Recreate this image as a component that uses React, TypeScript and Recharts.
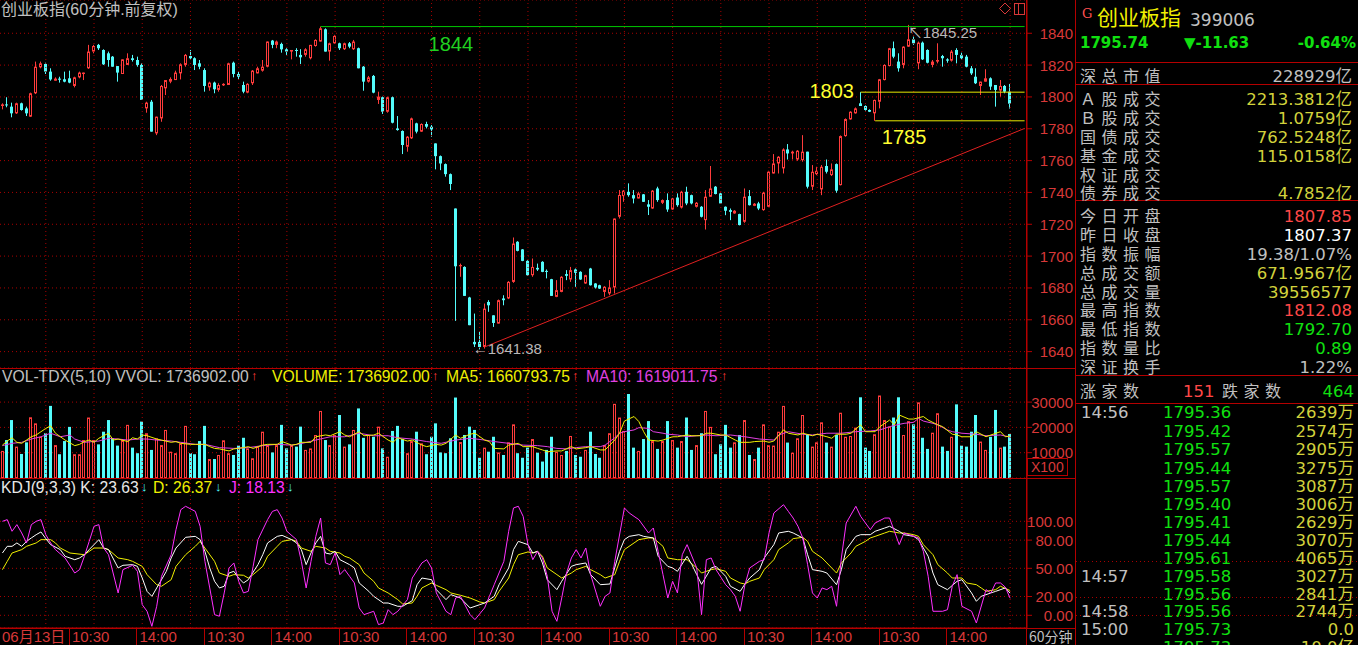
import React from 'react';
import {
  ComposedChart,
  Bar,
  Line,
  XAxis,
  YAxis,
  CartesianGrid,
  ReferenceLine,
  ReferenceDot,
} from 'recharts';

// ---- colours / fonts ----
const UP = '#ff3c3c';
const DOWN = '#54fcfc';
const AXIS = '#d83838';
const BORDER = '#b40000';
const GRID = '#a80000';
const GRAY = '#c0c0c0';
const YELLOW = '#f0f000';
const OLIVE = '#d2d23c';
const MAGENTA = '#ff30ff';
const GREEN = '#10e010';
const LATIN = '"Liberation Sans", Arial, "Noto Sans CJK SC", sans-serif';
const CJK = '"Noto Sans CJK SC", sans-serif';
const PANEL = '"DejaVu Sans", "Noto Sans CJK SC", sans-serif';

// ---- 60 minute candles: [open, high, low, close] ----
const OHLC: number[][] = [
  [1794.3, 1796.0, 1792.2, 1795.3], [1795.3, 1799.8, 1793.5, 1794.7], [1793.9, 1796.4, 1787.2, 1789.7], [1789.7, 1796.4, 1789.3, 1796.0],
  [1796.0, 1796.4, 1791.4, 1791.8], [1792.8, 1793.9, 1788.0, 1789.7], [1787.6, 1802.7, 1787.4, 1802.3], [1802.3, 1822.2, 1801.8, 1819.0],
  [1818.6, 1822.2, 1818.0, 1821.1], [1820.7, 1821.5, 1814.4, 1815.9], [1815.9, 1818.0, 1810.2, 1811.0], [1810.2, 1812.3, 1810.2, 1811.5],
  [1811.5, 1812.7, 1809.0, 1810.8], [1811.1, 1815.9, 1809.2, 1809.6], [1811.7, 1816.5, 1808.6, 1809.0], [1806.9, 1812.7, 1806.0, 1812.3],
  [1812.3, 1815.9, 1811.7, 1815.3], [1814.4, 1815.3, 1810.6, 1815.3], [1818.0, 1832.7, 1817.6, 1828.5], [1828.5, 1832.7, 1827.4, 1832.0],
  [1832.7, 1833.3, 1829.5, 1830.6], [1829.5, 1829.9, 1820.1, 1820.5], [1827.4, 1828.5, 1819.0, 1823.2], [1825.3, 1825.7, 1819.0, 1819.0],
  [1819.4, 1819.4, 1809.6, 1815.3], [1814.4, 1823.6, 1814.4, 1823.6], [1820.1, 1827.4, 1820.1, 1824.3], [1824.3, 1826.4, 1822.2, 1823.2],
  [1823.2, 1825.3, 1819.0, 1820.1], [1820.1, 1821.1, 1798.1, 1798.1], [1792.8, 1797.0, 1790.1, 1796.4], [1797.0, 1798.1, 1778.2, 1778.2],
  [1777.1, 1787.6, 1776.0, 1787.6], [1786.5, 1807.5, 1784.4, 1806.9], [1805.4, 1810.6, 1801.2, 1810.6], [1809.6, 1812.3, 1808.6, 1811.3],
  [1810.6, 1816.5, 1810.6, 1815.3], [1814.8, 1821.1, 1811.0, 1820.5], [1820.1, 1827.0, 1819.0, 1826.4], [1825.7, 1829.5, 1823.6, 1824.3],
  [1824.3, 1824.9, 1816.9, 1820.1], [1821.1, 1823.2, 1817.4, 1819.0], [1816.9, 1818.0, 1803.3, 1806.9], [1806.0, 1809.6, 1803.9, 1809.0],
  [1809.0, 1809.6, 1802.3, 1804.8], [1804.4, 1808.6, 1803.3, 1807.5], [1807.3, 1808.6, 1806.9, 1808.2], [1807.5, 1821.5, 1807.5, 1821.1],
  [1821.5, 1822.2, 1812.3, 1814.4], [1814.4, 1815.9, 1811.0, 1812.7], [1807.5, 1809.6, 1802.3, 1803.3], [1802.7, 1808.6, 1802.3, 1808.2],
  [1808.6, 1816.9, 1807.5, 1816.5], [1814.8, 1819.0, 1814.8, 1818.0], [1816.5, 1823.2, 1815.9, 1819.0], [1819.0, 1834.8, 1818.6, 1834.8],
  [1835.4, 1835.8, 1830.6, 1832.7], [1832.7, 1835.4, 1830.6, 1834.8], [1833.3, 1834.1, 1827.8, 1829.9], [1829.9, 1830.6, 1826.4, 1828.5],
  [1828.5, 1829.5, 1823.6, 1829.5], [1829.5, 1830.6, 1825.3, 1829.1], [1826.4, 1830.0, 1820.7, 1824.9], [1826.4, 1830.6, 1825.3, 1829.9],
  [1824.3, 1832.7, 1823.6, 1832.7], [1832.0, 1836.2, 1831.6, 1835.8], [1834.8, 1844.2, 1834.8, 1843.1], [1842.5, 1843.1, 1828.5, 1828.5],
  [1828.5, 1834.1, 1822.8, 1833.7], [1833.7, 1839.0, 1833.3, 1838.3], [1833.7, 1834.1, 1829.5, 1830.6], [1830.0, 1834.1, 1829.5, 1833.7],
  [1833.7, 1834.5, 1830.6, 1831.6], [1830.0, 1835.8, 1829.5, 1834.8], [1830.6, 1831.0, 1818.0, 1818.0], [1819.0, 1819.4, 1803.9, 1809.6],
  [1809.6, 1813.2, 1809.0, 1812.3], [1813.2, 1813.8, 1802.3, 1802.7], [1798.1, 1803.3, 1795.6, 1800.2], [1799.8, 1800.2, 1789.3, 1790.7],
  [1790.7, 1800.2, 1790.1, 1799.8], [1799.8, 1800.2, 1783.4, 1783.8], [1780.2, 1788.0, 1778.8, 1779.2], [1778.6, 1779.0, 1764.1, 1769.8],
  [1768.7, 1775.4, 1765.6, 1775.0], [1774.0, 1787.0, 1773.6, 1786.5], [1783.4, 1783.8, 1777.1, 1778.2], [1778.2, 1783.4, 1778.0, 1783.0],
  [1783.0, 1784.4, 1780.2, 1781.3], [1781.3, 1782.3, 1775.0, 1779.6], [1770.8, 1770.8, 1754.5, 1762.8], [1762.8, 1763.2, 1754.0, 1758.2],
  [1757.8, 1758.2, 1749.9, 1751.5], [1751.5, 1751.9, 1741.5, 1745.3], [1729.9, 1729.9, 1659.3, 1693.6], [1693.6, 1695.3, 1687.0, 1694.4],
  [1693.2, 1693.6, 1675.0, 1675.0], [1674.0, 1674.4, 1656.6, 1656.6], [1646.1, 1663.9, 1642.9, 1644.6], [1646.1, 1652.4, 1641.38, 1642.9],
  [1642.9, 1670.2, 1641.9, 1667.0], [1671.2, 1672.3, 1665.0, 1669.1], [1662.8, 1662.8, 1655.5, 1658.0], [1657.6, 1672.7, 1657.6, 1672.3],
  [1673.4, 1675.4, 1669.1, 1672.3], [1673.4, 1684.3, 1673.0, 1683.8], [1683.8, 1711.7, 1683.2, 1707.9], [1709.0, 1709.4, 1703.0, 1703.3],
  [1704.2, 1704.4, 1696.8, 1697.0], [1697.0, 1697.4, 1687.5, 1688.0], [1688.0, 1698.5, 1687.0, 1693.2], [1692.6, 1695.3, 1690.7, 1691.6],
  [1696.4, 1696.8, 1689.9, 1690.1], [1690.7, 1691.6, 1686.0, 1690.1], [1685.5, 1685.7, 1675.0, 1675.0], [1674.4, 1684.9, 1674.2, 1678.6],
  [1677.5, 1687.4, 1677.3, 1687.0], [1688.7, 1691.2, 1684.9, 1687.6], [1685.3, 1693.2, 1683.8, 1691.2], [1691.6, 1692.2, 1680.7, 1689.5],
  [1690.1, 1690.5, 1685.1, 1685.3], [1682.8, 1688.3, 1682.6, 1688.0], [1692.2, 1692.6, 1681.5, 1681.7], [1682.8, 1683.0, 1679.6, 1680.3],
  [1681.7, 1682.0, 1679.4, 1679.6], [1677.5, 1681.1, 1674.4, 1680.7], [1676.5, 1684.9, 1675.4, 1680.3], [1680.3, 1723.6, 1676.5, 1723.6],
  [1724.7, 1741.5, 1723.6, 1738.4], [1737.7, 1741.5, 1734.1, 1741.1], [1740.4, 1745.7, 1737.3, 1738.3], [1738.3, 1741.5, 1733.1, 1736.2],
  [1736.2, 1740.4, 1736.2, 1739.4], [1738.8, 1739.0, 1734.0, 1734.1], [1732.5, 1735.2, 1725.8, 1731.0], [1729.9, 1741.5, 1729.7, 1741.1],
  [1742.5, 1743.6, 1734.1, 1735.2], [1733.5, 1735.6, 1732.7, 1735.2], [1735.2, 1739.4, 1727.8, 1729.3], [1729.3, 1736.6, 1729.1, 1736.2],
  [1736.8, 1739.4, 1731.0, 1732.0], [1730.5, 1741.0, 1729.9, 1740.4], [1740.4, 1743.6, 1732.0, 1733.1], [1738.3, 1738.6, 1732.5, 1733.1],
  [1731.0, 1734.0, 1730.5, 1733.5], [1731.0, 1731.4, 1724.3, 1724.7], [1722.6, 1741.5, 1716.7, 1737.3], [1737.3, 1756.6, 1737.3, 1742.5],
  [1743.6, 1744.0, 1738.8, 1739.0], [1739.4, 1739.6, 1732.9, 1733.1], [1731.0, 1731.2, 1725.7, 1728.5], [1728.9, 1729.9, 1722.6, 1727.8],
  [1726.8, 1728.9, 1726.6, 1728.5], [1726.4, 1726.6, 1719.3, 1719.5], [1721.6, 1742.5, 1720.9, 1737.3], [1737.7, 1741.5, 1731.8, 1732.0],
  [1731.6, 1733.3, 1731.4, 1732.9], [1733.1, 1734.1, 1728.9, 1729.9], [1728.9, 1740.4, 1728.5, 1739.8], [1731.0, 1753.6, 1731.0, 1753.0],
  [1751.9, 1764.1, 1751.9, 1758.2], [1758.2, 1762.8, 1751.9, 1762.4], [1755.1, 1767.7, 1751.9, 1767.0], [1767.0, 1770.4, 1760.7, 1764.5],
  [1764.5, 1766.2, 1760.7, 1765.6], [1760.7, 1766.6, 1759.9, 1766.2], [1760.3, 1776.0, 1759.3, 1765.6], [1765.6, 1765.6, 1742.5, 1743.6],
  [1743.6, 1757.2, 1741.5, 1753.0], [1751.5, 1756.1, 1750.9, 1753.6], [1741.9, 1757.2, 1738.3, 1756.1], [1756.6, 1760.7, 1751.9, 1753.0],
  [1750.9, 1758.2, 1750.3, 1754.5], [1757.8, 1758.2, 1739.8, 1741.1], [1744.6, 1775.8, 1744.4, 1775.4], [1775.4, 1786.5, 1775.0, 1786.1],
  [1785.9, 1791.0, 1785.7, 1790.7], [1789.7, 1793.4, 1789.5, 1792.8], [1796.0, 1803.0, 1794.3, 1794.3], [1794.3, 1794.7, 1791.4, 1791.8],
  [1791.8, 1792.2, 1790.5, 1790.7], [1789.7, 1798.3, 1785.0, 1798.1], [1797.0, 1811.3, 1792.8, 1811.1], [1810.6, 1820.5, 1810.4, 1820.1],
  [1819.4, 1830.8, 1819.2, 1830.6], [1830.6, 1834.8, 1824.3, 1825.3], [1822.2, 1827.4, 1815.9, 1818.0], [1820.1, 1831.8, 1818.0, 1831.6],
  [1831.6, 1845.25, 1831.4, 1836.2], [1836.2, 1837.9, 1832.7, 1833.7], [1821.1, 1834.8, 1817.4, 1834.1], [1834.1, 1834.8, 1823.2, 1823.6],
  [1829.5, 1829.9, 1821.1, 1821.5], [1820.1, 1823.2, 1818.6, 1822.2], [1822.2, 1833.7, 1821.1, 1823.2], [1825.7, 1826.4, 1819.0, 1824.3],
  [1823.6, 1824.3, 1821.5, 1822.8], [1822.8, 1829.5, 1822.2, 1828.5], [1829.5, 1830.6, 1821.1, 1826.4], [1826.4, 1827.8, 1823.6, 1824.3],
  [1825.3, 1826.4, 1818.6, 1819.0], [1818.0, 1819.4, 1813.8, 1814.8], [1812.7, 1818.0, 1808.1, 1808.6], [1806.9, 1809.6, 1801.2, 1809.6],
  [1809.6, 1817.4, 1809.6, 1811.7], [1811.7, 1812.3, 1804.4, 1806.5], [1807.5, 1807.5, 1793.9, 1804.4], [1804.0, 1810.6, 1800.2, 1806.9],
  [1806.9, 1807.5, 1802.3, 1803.3], [1803.3, 1808.1, 1792.7, 1795.74],
];

// ---- volume (x100) ----
const VOL = [
  10700, 15000, 22900, 12400, 9500, 14100, 24000, 21600, 16300, 17700,
  28500, 13000, 9400, 14600, 20200, 9400, 9400, 15000, 23900, 15000,
  13300, 18300, 22900, 15700, 12800, 15000, 21000, 12000, 9800, 22300,
  17700, 11100, 15700, 13000, 19000, 10400, 9800, 13700, 20600, 9800,
  9400, 14600, 20600, 7500, 7500, 9100, 14900, 9800, 9100, 12800,
  15900, 11700, 7800, 12400, 18300, 13000, 10100, 13000, 21000, 11700,
  13000, 12400, 20300, 11100, 11700, 17000, 26500, 15000, 13000, 17000,
  24900, 12400, 13300, 19000, 27500, 15900, 17000, 16300, 20300, 11700,
  8400, 18600, 20600, 15400, 9800, 14600, 18300, 13700, 9400, 16300,
  21600, 10100, 9800, 15700, 31800, 14200, 17000, 20300, 19000, 8000,
  12000, 10400, 16300, 10100, 9100, 14100, 21200, 9800, 8000, 12000,
  15400, 10000, 6500, 11100, 16300, 10400, 9100, 10700, 16600, 9100,
  8400, 11100, 18300, 9500, 8000, 13000, 17700, 29300, 23900, 18600,
  33200, 12000, 10700, 15400, 22500, 14600, 11500, 14600, 22500, 15000,
  12000, 14600, 23900, 11100, 13000, 17700, 26500, 20200, 9400, 13300,
  21000, 12000, 14100, 17000, 22900, 9100, 7500, 12000, 21200, 13000,
  12800, 18300, 28500, 14000, 10000, 15700, 24900, 17300, 12400, 14100,
  22000, 14000, 12400, 17000, 25800, 16300, 16600, 19900, 31900, 12000,
  10700, 17300, 32600, 22900, 20300, 23900, 31900, 17000, 22500, 21200,
  29900, 15900, 11500, 17900, 25600, 12400, 10700, 16300, 29100, 12800,
  12400, 18300, 24900, 14400, 11100, 16300, 26900, 12000, 12400, 17370,
];

// ---- volume averages: [bar, value] ----
const MA5_PTS = [
  [0, 13000], [1, 14600], [2, 15900], [3, 14100], [4, 13700], [5, 15000], [6, 16300], [7, 17000], [8, 18300], [9, 19600],
  [10, 20600], [11, 17700], [13, 15000], [15, 12800], [16, 13300], [17, 14400], [18, 15000], [19, 14100], [20, 15700], [22, 17700],
  [23, 15000], [24, 15400], [26, 14400], [27, 15900], [28, 15400], [29, 17000], [30, 16700], [32, 15400], [33, 15000], [35, 14100],
  [36, 14400], [37, 13700], [39, 13300], [40, 13300], [42, 13300], [43, 12400], [44, 11700], [45, 11500], [47, 10700], [48, 11500],
  [50, 12000], [51, 12400], [52, 11700], [54, 13000], [55, 13300], [57, 13300], [58, 14400], [60, 13000], [61, 13300], [62, 14100],
  [64, 14100], [65, 16300], [67, 17000], [68, 16700], [70, 18300], [71, 17000], [72, 16300], [74, 18300], [75, 16700], [77, 17000],
  [78, 17700], [80, 15000], [81, 14100], [82, 15900], [84, 14600], [85, 15000], [87, 13000], [88, 12400], [90, 13300], [91, 13000],
  [92, 13700], [94, 17000], [95, 15700], [97, 17300], [98, 17700], [100, 15000], [101, 14400], [102, 11700], [104, 11500], [105, 13000],
  [107, 13700], [108, 12400], [110, 12400], [111, 11700], [112, 11100], [113, 10400], [115, 10700], [116, 10700], [118, 12400], [119, 11500],
  [121, 12000], [122, 12400], [124, 11100], [125, 11100], [127, 15000], [128, 17700], [129, 22500], [131, 24300], [132, 22300], [133, 18300],
  [134, 15000], [136, 14600], [137, 15000], [139, 16300], [140, 16300], [142, 17000], [143, 16700], [145, 16700], [146, 17700], [147, 17700],
  [149, 17000], [150, 17000], [152, 15000], [153, 14100], [155, 14100], [156, 14400], [158, 14600], [159, 14100], [160, 14600], [162, 19000],
  [163, 17700], [165, 17000], [166, 17700], [168, 16700], [169, 17300], [171, 16300], [172, 15700], [173, 17300], [175, 17300], [176, 17700],
  [178, 21000], [179, 18300], [181, 18300], [182, 20300], [184, 22900], [185, 21000], [186, 24900], [188, 23300], [189, 23300], [191, 24300],
  [192, 22900], [194, 21000], [195, 20300], [197, 17300], [198, 17000], [199, 16300], [201, 16300], [202, 18300], [204, 16300], [205, 17000],
  [207, 18300], [208, 16300], [209, 16608],
];
const MA10_PTS = [
  [0, 12800], [2, 13700], [4, 14100], [6, 15400], [8, 16300], [10, 17700], [12, 16300], [14, 17000], [15, 15400], [17, 14100],
  [20, 14600], [22, 15700], [24, 15400], [26, 15000], [28, 15400], [30, 15400], [32, 15000], [35, 14600], [37, 14100], [40, 13300],
  [42, 13300], [45, 12000], [48, 11700], [51, 12000], [54, 12800], [57, 13300], [60, 13000], [62, 13600], [65, 15000], [68, 16300],
  [71, 16300], [74, 17700], [77, 16700], [80, 16700], [82, 15900], [85, 15400], [88, 14400], [91, 13700], [94, 15000], [97, 15700],
  [100, 15000], [102, 14400], [105, 13700], [108, 13000], [111, 12800], [113, 12400], [115, 11700], [117, 11500], [119, 12000], [121, 12400],
  [124, 12400], [125, 13000], [127, 15900], [128, 17700], [129, 18300], [131, 19000], [132, 19900], [134, 19600], [135, 18300], [137, 17700],
  [138, 17300], [140, 17000], [142, 16300], [144, 16700], [146, 17000], [148, 16700], [151, 17000], [154, 16300], [157, 15400], [160, 15000],
  [161, 17000], [163, 18300], [166, 17300], [168, 17000], [171, 17700], [174, 17700], [177, 18300], [180, 18600], [182, 19000], [184, 20300],
  [186, 21200], [187, 21600], [189, 22000], [190, 23600], [191, 22500], [193, 21600], [194, 21000], [196, 19000], [197, 18300], [199, 17700],
  [202, 17300], [204, 16700], [207, 17000], [209, 16190],
];

// ---- KDJ(9,3,3): [bar, value] ----
const K_PTS = [
  [0, 66.3], [1, 73.4], [2, 73.4], [3, 77], [4, 73.4], [5, 78.7], [6, 82.3], [7, 85.8], [8, 88.7], [9, 81.6], [10, 75.2], [12, 69.9],
  [13, 62.8], [15, 59.2], [16, 61], [17, 64.5], [18, 69.9], [20, 80.5], [21, 71.6], [22, 69.9], [24, 50.4], [25, 53.2], [27, 53.9],
  [28, 52.1], [29, 39.7], [30, 25.5], [31, 20.2], [32, 29.1], [34, 46.8], [35, 61], [36, 71.6], [38, 83], [40, 84], [41, 80.5],
  [42, 68.1], [43, 50.4], [44, 36.2], [45, 29.1], [46, 30.9], [47, 45], [48, 46.8], [49, 39.7], [50, 34.4], [51, 37.9], [53, 53.9],
  [54, 64.5], [55, 77], [57, 84], [58, 85.1], [60, 80.5], [61, 77], [62, 69.9], [63, 53.9], [64, 66.3], [65, 77], [66, 84],
  [67, 66.3], [68, 65.2], [69, 68.1], [70, 59.2], [72, 53.9], [73, 50.4], [74, 34.4], [76, 25.5], [77, 20.2], [79, 13.1], [80, 13.1],
  [82, 9.6], [83, 9.6], [85, 15.6], [86, 32.6], [87, 39.7], [89, 37.9], [90, 27.3], [92, 16.7], [93, 22], [95, 18.4], [96, 13.1],
  [97, 7.8], [99, 11.3], [100, 13.1], [102, 20.2], [103, 32.6], [105, 50.4], [106, 69.9], [107, 78.7], [109, 75.2], [110, 66.3],
  [111, 68.1], [112, 55.7], [113, 37.9], [115, 27.3], [116, 36.2], [118, 52.1], [119, 53.9], [121, 55.7], [122, 43.3], [124, 32.6],
  [126, 33.3], [128, 68.1], [129, 80.5], [130, 84], [132, 85.8], [133, 84], [135, 82.3], [136, 62.8], [138, 52.1], [139, 50.4],
  [140, 46.8], [142, 62.8], [143, 53.9], [144, 43.3], [145, 33], [147, 50.4], [148, 52.1], [150, 41.5], [151, 30.9], [153, 25.5],
  [154, 33.3], [155, 39.7], [157, 48.6], [158, 61], [160, 75.2], [161, 87.6], [163, 89.4], [164, 87.6], [166, 82.3], [167, 64.5],
  [168, 48.6], [170, 46.8], [171, 45], [173, 32.6], [174, 48.6], [175, 69.9], [177, 84], [178, 85.8], [180, 85.8], [181, 89.4],
  [183, 92.9], [184, 94.7], [186, 89.4], [187, 85.8], [189, 84], [190, 80.5], [192, 62.8], [193, 45], [194, 32.6], [196, 27.3],
  [198, 36.2], [199, 37.9], [201, 23.8], [202, 14.9], [203, 20.2], [205, 23.8], [206, 25.5], [208, 29.1], [209, 23.63],
];
const D_PTS = [
  [0, 48.6], [1, 57.4], [2, 66.3], [4, 69.9], [5, 73.4], [7, 77], [8, 80.5], [10, 80.5], [11, 77], [12, 71.6], [14, 66.3], [17, 64.5],
  [19, 71.6], [21, 71.6], [22, 69.9], [24, 61], [26, 59.2], [27, 57.4], [29, 52.1], [30, 43.3], [32, 32.6], [33, 30.9], [35, 37.9],
  [36, 52.1], [38, 64.5], [40, 73.4], [41, 78.7], [42, 71.6], [44, 57.4], [45, 45], [47, 41.5], [48, 43.3], [50, 42.6], [51, 39.7],
  [52, 43.3], [54, 52.1], [55, 62.8], [57, 73.4], [58, 78.7], [60, 80.5], [61, 78.7], [62, 71.6], [64, 68.1], [65, 73.4], [67, 71.6],
  [68, 68.1], [70, 66.3], [71, 62.8], [72, 61], [74, 53.9], [75, 45], [77, 36.2], [78, 29.1], [80, 23.8], [82, 16.7], [83, 12.1],
  [85, 13.1], [86, 20.2], [87, 29.1], [89, 34.4], [90, 31.9], [92, 27.3], [93, 23.8], [95, 21.3], [97, 18.4], [99, 14.2], [100, 13.1],
  [102, 16.7], [103, 25.5], [105, 39.7], [106, 53.9], [107, 64.5], [109, 67.4], [110, 66.3], [111, 68.1], [112, 62.8], [113, 50.4],
  [115, 43.3], [116, 39.7], [118, 45], [119, 48.6], [121, 52.1], [122, 48.6], [124, 43.3], [125, 39.7], [127, 43.3], [128, 57.4],
  [129, 69.9], [131, 77], [132, 80.5], [134, 82.3], [135, 82.3], [137, 73.4], [138, 61], [140, 59.2], [141, 59.2], [142, 59.2],
  [144, 50.4], [145, 45], [147, 48.6], [148, 49.6], [150, 46.8], [151, 39.7], [153, 34.4], [154, 33.3], [155, 36.2], [157, 39.7],
  [158, 48.6], [160, 59.2], [161, 69.9], [163, 77], [164, 81.6], [166, 83], [167, 78.7], [168, 68.1], [170, 61], [171, 55.7],
  [173, 45], [174, 55.7], [176, 66.3], [177, 73.4], [179, 78.7], [180, 82.3], [181, 84], [183, 87.6], [184, 89.4], [186, 87.6],
  [187, 87.6], [189, 85.8], [190, 84], [191, 75.2], [193, 64.5], [194, 53.9], [196, 45], [197, 39.7], [199, 39.7], [200, 34.4],
  [202, 32.6], [203, 29.1], [204, 25.5], [206, 27.3], [207, 30.9], [209, 26.37],
];
const J_PTS = [
  [0, 100], [1, 101.8], [2, 89.4], [3, 96.5], [4, 87.6], [5, 77], [6, 96.5], [7, 100], [8, 101.8], [9, 85.8], [10, 77], [11, 69.9],
  [13, 61], [15, 45], [16, 48.6], [17, 62.8], [18, 78.7], [19, 94.7], [20, 96.5], [21, 71.6], [22, 64.5], [24, 23.8], [25, 48.6],
  [27, 53.2], [28, 46.8], [29, 11.3], [30, 4.3], [31, -11.7], [32, 9.6], [33, 41.5], [35, 64.5], [36, 91.1], [37, 112.4], [38, 116],
  [40, 110.6], [41, 94.7], [42, 57.4], [43, 29.1], [44, 0.7], [45, -1], [46, 23.8], [47, 50.4], [48, 55.7], [49, 36.2], [50, 23.8],
  [51, 25.5], [52, 52.1], [53, 80.5], [55, 101.8], [56, 110.6], [57, 112.4], [58, 103.5], [59, 89.4], [61, 80.5], [62, 57.4],
  [63, 29.1], [64, 57.4], [65, 84], [66, 103.5], [67, 55.7], [68, 53.9], [69, 66.3], [70, 43.3], [71, 48.6], [72, 41.5], [73, 34.4],
  [74, 7.8], [75, 0.7], [77, 4.3], [78, -9.9], [79, -8.2], [80, 6], [81, 0.7], [82, 4.3], [84, 16.7], [85, 39.7], [87, 55.7],
  [88, 59.2], [89, 50.4], [90, 23.8], [92, 4.3], [93, 0.7], [94, 18.4], [95, 20.2], [97, 0.7], [98, -4.6], [100, 7.8], [101, 20.2],
  [102, 32.6], [104, 57.4], [105, 89.4], [106, 114.2], [107, 116], [108, 105.3], [109, 75.2], [110, 59.2], [111, 68.1], [112, 61],
  [113, 41.5], [114, 4.3], [115, -6.4], [116, 18.4], [117, 45], [118, 61], [119, 69.9], [120, 61], [121, 71.6], [122, 43.3],
  [124, 9.6], [125, 20.2], [126, 23.8], [127, 57.4], [129, 114.2], [130, 108.9], [131, 105.3], [132, 101.8], [134, 87.6],
  [135, 92.9], [136, 68.1], [137, 43.3], [138, 18.4], [139, 36.2], [140, 23.8], [141, 64.5], [142, 75.2], [144, 50.4], [145, 0.7],
  [146, 59.2], [147, 61], [148, 48.6], [150, 32.6], [151, 27.3], [152, 20.2], [153, 4.3], [154, 32.6], [155, 50.4], [157, 57.4],
  [158, 59.2], [159, 87.6], [160, 108.9], [162, 117.7], [163, 110.6], [164, 103.5], [165, 94.7], [166, 82.3], [167, 53.9],
  [168, 23.8], [169, 18.4], [170, 29.1], [171, 27.3], [172, 30.9], [173, 9.6], [174, 61], [175, 98.2], [177, 116], [178, 105.3],
  [180, 91.1], [181, 98.2], [183, 103.5], [184, 103.5], [185, 89.4], [186, 75.2], [187, 87.6], [188, 85.8], [190, 82.3], [191, 68.1],
  [192, 41.5], [193, 4.3], [195, 4.3], [196, 6], [197, 30.9], [198, 43.3], [199, 9.6], [201, 4.3], [202, -8.2], [204, 27.3],
  [205, 23.8], [206, 34.4], [207, 34.4], [208, 30], [209, 18.13],
];

// ---- axes ----
const SLOTS = 213;
const PRICE_TICKS = [1640, 1660, 1680, 1700, 1720, 1740, 1760, 1780, 1800, 1820, 1840];
const VOL_TICKS = [10000, 20000, 30000];
const KDJ_TICKS = [0, 20, 50, 80, 100];
const GRID_BARS = [9, 19, 29, 39, 49, 59, 69, 79, 89, 99, 109, 119, 129, 139, 149, 159, 169, 179, 189, 199, 209];
const X_TICKS = [0, 14, 28, 42, 56, 70, 84, 98, 112, 126, 140, 154, 168, 182, 196];
const X_LABELS = ['06月13日', '10:30', '14:00', '10:30', '14:00', '10:30', '14:00', '10:30', '14:00', '10:30', '14:00', '10:30', '14:00', '10:30', '14:00'];

// ---- side panel text ----
const MARKET_ROWS = [
  ['深总市值', '228929', '亿', GRAY],
  ['Ａ股成交', '2213.3812', '亿', OLIVE],
  ['Ｂ股成交', '1.0759', '亿', OLIVE],
  ['国债成交', '762.5248', '亿', OLIVE],
  ['基金成交', '115.0158', '亿', OLIVE],
  ['权证成交', '', '', OLIVE],
  ['债券成交', '4.7852', '亿', OLIVE],
];
const MARKET_Y = [77, 100, 119, 138, 157, 176, 194];
const INDEX_ROWS = [
  ['今日开盘', '1807.85', '', '#ff4848'],
  ['昨日收盘', '1807.37', '', '#ffffff'],
  ['指数振幅', '19.38/1.07%', '', GRAY],
  ['总成交额', '671.9567', '亿', OLIVE],
  ['总成交量', '39556577', '', OLIVE],
  ['最高指数', '1812.08', '', '#ff4848'],
  ['最低指数', '1792.70', '', GREEN],
  ['指数量比', '0.89', '', GREEN],
  ['深证换手', '1.22%', '', GRAY],
];
const INDEX_Y = [217, 236, 255, 274, 293, 311, 330, 349, 368];
const TRADES = [
  ['14:56', '1795.36', '2639万'], ['', '1795.42', '2574万'], ['', '1795.57', '2905万'], ['', '1795.44', '3275万'],
  ['', '1795.57', '3087万'], ['', '1795.40', '3006万'], ['', '1795.41', '2629万'], ['', '1795.44', '3070万'],
  ['', '1795.61', '4065万'], ['14:57', '1795.58', '3027万'], ['', '1795.56', '2841万'], ['14:58', '1795.56', '2744万'],
  ['15:00', '1795.73', '0.0'], ['', '1795.73', '10.0亿'],
];
const TRADE_Y = [413, 432, 450, 469, 487, 505, 523, 541, 559, 577, 595, 612, 630, 648];

// ---- table for the charts ----
const toMap = (pts: number[][]) => new Map(pts.map((p) => [p[0], p[1]]));
const ma5Map = toMap(MA5_PTS);
const ma10Map = toMap(MA10_PTS);
const kMap = toMap(K_PTS);
const dMap = toMap(D_PTS);
const jMap = toMap(J_PTS);

const ROWS = Array.from({ length: SLOTS }, (_, i) => {
  const bar = OHLC[i];
  return {
    i,
    range: bar ? [bar[2], bar[1]] : null,
    o: bar ? bar[0] : null,
    h: bar ? bar[1] : null,
    l: bar ? bar[2] : null,
    c: bar ? bar[3] : null,
    vol: i < VOL.length ? VOL[i] : null,
    ma5: ma5Map.has(i) ? ma5Map.get(i) : null,
    ma10: ma10Map.has(i) ? ma10Map.get(i) : null,
    k: kMap.has(i) ? kMap.get(i) : null,
    d: dMap.has(i) ? dMap.get(i) : null,
    j: jMap.has(i) ? jMap.get(i) : null,
  };
});

// ---- shapes ----
function Candle(props: any) {
  const { x, y, width, height, payload } = props;
  if (!payload || payload.o == null || !(height >= 0)) return null;
  const { o, h, l, c } = payload;
  const k = h > l ? height / (h - l) : 0;
  const col = Math.round(x + width / 2 - 0.5);
  const cx = col + 0.5;
  const up = c >= o;
  const color = up ? UP : DOWN;
  const top = y + (h - Math.max(o, c)) * k;
  const bot = y + (h - Math.min(o, c)) * k;
  const bodyH = Math.max(bot - top, 1);
  return (
    <g>
      <line x1={cx} x2={cx} y1={y} y2={y + height} stroke={color} strokeWidth={1} />
      {up && bodyH > 2 ? (
        <rect x={col - 0.5} y={top + 0.5} width={2} height={bodyH - 1} fill="#000" stroke={color} strokeWidth={1} />
      ) : (
        <rect x={col - 1} y={top} width={3} height={bodyH} fill={color} />
      )}
    </g>
  );
}

function VolBar(props: any) {
  const { x, y, width, height, payload } = props;
  if (!payload || payload.vol == null || !(height > 0)) return null;
  const col = Math.round(x + width / 2 - 0.5);
  const up = payload.c >= payload.o;
  return up ? (
    <rect x={col - 0.5} y={y + 0.5} width={2} height={height - 1} fill="#000" stroke={UP} strokeWidth={1} />
  ) : (
    <rect x={col - 1} y={y} width={3} height={height} fill={DOWN} />
  );
}

const rightTick = (fmt: (v: number) => string) => (p: any) => (
  <text x={1073} y={p.y} textAnchor="end" dominantBaseline="central" fill={AXIS} fontSize={15} fontFamily={LATIN}>
    {fmt(p.payload.value)}
  </text>
);

const TimeTick = (p: any) => {
  const idx = X_TICKS.indexOf(p.payload.value);
  const label = X_LABELS[idx];
  if (idx === 0) {
    return (
      <text x={2} y={164} fill={AXIS} fontSize={15} fontFamily={LATIN}>{label}</text>
    );
  }
  return (
    <g>
      <line x1={Math.round(p.x) - 0.5} x2={Math.round(p.x) - 0.5} y1={151} y2={167} stroke={BORDER} />
      <text x={p.x + 2} y={164} fill={AXIS} fontSize={15} fontFamily={LATIN}>{label}</text>
    </g>
  );
};

const dotLabel = (text: string, color: string, size: number, dx: number, dy: number, anchor = 'start') => (p: any) => (
  <text
    x={p.viewBox.x + dx}
    y={p.viewBox.y + dy}
    fill={color}
    fontSize={size}
    fontFamily={LATIN}
    textAnchor={anchor}
    dominantBaseline="central"
  >
    {text}
  </text>
);

const vGrid = () =>
  GRID_BARS.map((b) => <ReferenceLine key={`vg${b}`} x={b} stroke={GRID} strokeDasharray="1 3" />);

function PriceChart() {
  return (
    <ComposedChart width={1075} height={368} data={ROWS} margin={{ top: 0, right: 0, bottom: 0, left: 0 }}>
      <CartesianGrid vertical={false} stroke={GRID} strokeDasharray="1 3" />
      <XAxis dataKey="i" scale="band" hide />
      <YAxis
        orientation="right"
        width={48}
        domain={[1629.7, 1860.9]}
        allowDataOverflow
        ticks={PRICE_TICKS}
        interval={0}
        axisLine={{ stroke: BORDER }}
        tickLine={{ stroke: BORDER }}
        tickSize={5}
        tick={rightTick((v) => String(v))}
      />
      {vGrid()}
      <ReferenceLine segment={[{ x: 66, y: 1844.2 }, { x: 212, y: 1844.2 }]} stroke="#00c800" />
      <ReferenceLine segment={[{ x: 178, y: 1803 }, { x: 212, y: 1803 }]} stroke="#e8e800" />
      <ReferenceLine segment={[{ x: 181, y: 1785 }, { x: 212, y: 1785 }]} stroke="#e8e800" />
      <ReferenceLine segment={[{ x: 100, y: 1642.9 }, { x: 212, y: 1780.2 }]} stroke="#e02020" />
      <Bar dataKey="range" barSize={4} shape={Candle} isAnimationActive={false} />
      <ReferenceDot x={99} y={1641.38} r={0} fill="none" stroke="none" label={dotLabel('←1641.38', '#b8b8b8', 15, -7, -1)} />
      <ReferenceDot x={188} y={1845.25} r={0} fill="none" stroke="none" label={dotLabel('↖1845.25', '#b8b8b8', 15, -1, 8)} />
      <ReferenceDot x={93} y={1833.3} r={0} fill="none" stroke="none" label={dotLabel('1844', '#20d020', 20, 0, 0, 'middle')} />
      <ReferenceDot x={172} y={1804.0} r={0} fill="none" stroke="none" label={dotLabel('1803', '#ffff30', 20, 0, 0, 'middle')} />
      <ReferenceDot x={187} y={1775.0} r={0} fill="none" stroke="none" label={dotLabel('1785', '#ffff30', 20, 0, 0, 'middle')} />
    </ComposedChart>
  );
}

function VolumeChart() {
  return (
    <ComposedChart width={1075} height={110} data={ROWS} margin={{ top: 0, right: 0, bottom: 0, left: 0 }}>
      <CartesianGrid vertical={false} stroke={GRID} strokeDasharray="1 3" />
      <XAxis dataKey="i" scale="band" hide />
      <YAxis
        orientation="right"
        width={48}
        domain={[0, 43478]}
        allowDataOverflow
        ticks={VOL_TICKS}
        interval={0}
        axisLine={{ stroke: BORDER }}
        tickLine={{ stroke: BORDER }}
        tickSize={5}
        tick={rightTick((v) => String(v))}
      />
      {vGrid()}
      <Bar dataKey="vol" barSize={4} shape={VolBar} isAnimationActive={false} />
      <Line dataKey="ma10" stroke="#e040e0" strokeWidth={1} dot={false} connectNulls isAnimationActive={false} />
      <Line dataKey="ma5" stroke={YELLOW} strokeWidth={1} dot={false} connectNulls isAnimationActive={false} />
    </ComposedChart>
  );
}

function KdjChart() {
  return (
    <ComposedChart width={1075} height={167} data={ROWS} margin={{ top: 0, right: 0, bottom: 0, left: 0 }}>
      <CartesianGrid vertical={false} stroke={GRID} strokeDasharray="1 3" />
      <XAxis
        dataKey="i"
        scale="band"
        height={17}
        ticks={X_TICKS}
        interval={0}
        tickLine={false}
        axisLine={{ stroke: BORDER }}
        tick={TimeTick}
      />
      <YAxis
        orientation="right"
        width={48}
        domain={[-13.5, 146.1]}
        allowDataOverflow
        ticks={KDJ_TICKS}
        interval={0}
        axisLine={{ stroke: BORDER }}
        tickLine={{ stroke: BORDER }}
        tickSize={5}
        tick={rightTick((v) => v.toFixed(2))}
      />
      {vGrid()}
      <Line dataKey="d" stroke={YELLOW} strokeWidth={1} dot={false} connectNulls isAnimationActive={false} />
      <Line dataKey="k" stroke="#ffffff" strokeWidth={1} dot={false} connectNulls isAnimationActive={false} />
      <Line dataKey="j" stroke={MAGENTA} strokeWidth={1} dot={false} connectNulls isAnimationActive={false} />
    </ComposedChart>
  );
}

const Txt = ({ x, y, size, color, family = LATIN, anchor = 'start', weight = 400, ls = 0, children }: any) => {
  const h = Math.round(size * 1.1);
  return (
    <div
      style={{
        position: 'absolute',
        top: y - h / 2,
        height: h,
        lineHeight: `${h}px`,
        ...(anchor === 'end' ? { right: 1358 - x } : { left: x }),
        color,
        fontSize: size,
        fontFamily: family,
        fontWeight: weight,
        letterSpacing: ls,
        whiteSpace: 'pre',
      }}
    >
      {children}
    </div>
  );
};

function Titles() {
  return (
    <>
      <Txt x={1} y={10} size={16} color={GRAY}>创业板指(60分钟.前复权)</Txt>

      <Txt x={2} y={376} size={15.7} color={GRAY}>VOL-TDX(5,10) VVOL: 1736902.00</Txt>
      <Txt x={251} y={376} size={13} color={UP}>↑</Txt>
      <Txt x={272} y={376} size={15.7} color={YELLOW}>VOLUME: 1736902.00</Txt>
      <Txt x={432} y={376} size={13} color={UP}>↑</Txt>
      <Txt x={446} y={376} size={15.7} color={YELLOW}>MA5: 1660793.75</Txt>
      <Txt x={572} y={376} size={13} color={UP}>↑</Txt>
      <Txt x={586} y={376} size={15.7} color="#e040e0">MA10: 1619011.75</Txt>
      <Txt x={721} y={376} size={13} color={UP}>↑</Txt>

      <Txt x={1} y={487} size={15.7} color="#e8e8e8">KDJ(9,3,3) K: 23.63</Txt>
      <Txt x={141} y={487} size={13} color={DOWN}>↓</Txt>
      <Txt x={153} y={487} size={15.7} color={YELLOW}>D: 26.37</Txt>
      <Txt x={215} y={487} size={13} color={DOWN}>↓</Txt>
      <Txt x={229} y={487} size={15.7} color={MAGENTA}>J: 18.13</Txt>
      <Txt x={287} y={487} size={13} color={DOWN}>↓</Txt>

      <Txt x={1031} y={467} size={14} color={AXIS}>X100</Txt>
      <Txt x={1029} y={636} size={14} color={GRAY} family={CJK}>60分钟</Txt>
    </>
  );
}

function SidePanel() {
  return (
    <>
      <Txt x={1082} y={14} size={13} color="#ff5050" family='"DejaVu Serif", serif'>G</Txt>
      <Txt x={1097} y={16} size={21} color={YELLOW} family={CJK}>创业板指</Txt>
      <Txt x={1190} y={20} size={17} color={GRAY} family={PANEL}>399006</Txt>
      <Txt x={1080} y={43} size={15} weight={700} color={GREEN} family={PANEL}>1795.74</Txt>
      <Txt x={1184} y={43} size={15} weight={700} color={GREEN} family={PANEL}>▼-11.63</Txt>
      <Txt x={1356} y={43} size={15} weight={700} color={GREEN} family={PANEL} anchor="end">-0.64%</Txt>

      {MARKET_ROWS.map((r, n) => (
        <React.Fragment key={`m${n}`}>
          <Txt x={1080} y={MARKET_Y[n]} size={16} color={GRAY} family={PANEL} ls={5.5}>{r[0]}</Txt>
          <Txt x={1352} y={MARKET_Y[n]} size={16.5} color={r[3]} family={PANEL} anchor="end">{r[1] + r[2]}</Txt>
        </React.Fragment>
      ))}
      {INDEX_ROWS.map((r, n) => (
        <React.Fragment key={`x${n}`}>
          <Txt x={1080} y={INDEX_Y[n]} size={16} color={GRAY} family={PANEL} ls={5.5}>{r[0]}</Txt>
          <Txt x={1352} y={INDEX_Y[n]} size={16.5} color={r[3]} family={PANEL} anchor="end">{r[1] + r[2]}</Txt>
        </React.Fragment>
      ))}
      <Txt x={1080} y={392} size={16} color={GRAY} family={PANEL} ls={5.5}>涨家数</Txt>
      <Txt x={1183} y={392} size={16.5} color="#ff4848" family={PANEL}>151</Txt>
      <Txt x={1222} y={392} size={16} color={GRAY} family={PANEL} ls={5.5}>跌家数</Txt>
      <Txt x={1354} y={392} size={16.5} color={GREEN} family={PANEL} anchor="end">464</Txt>

      {TRADES.map((r, n) => (
        <React.Fragment key={`t${n}`}>
          {r[0] ? <Txt x={1081} y={TRADE_Y[n]} size={16.5} color={GRAY} family={PANEL}>{r[0]}</Txt> : null}
          <Txt x={1163} y={TRADE_Y[n]} size={16.5} color={GREEN} family={PANEL}>{r[1]}</Txt>
          <Txt x={1354} y={TRADE_Y[n]} size={16.5} color={OLIVE} family={PANEL} anchor="end">{r[2]}</Txt>
        </React.Fragment>
      ))}
    </>
  );
}

function Frame() {
  const h = (y: number, x1: number, x2: number, dash?: string) => (
    <line x1={x1} x2={x2} y1={y + 0.5} y2={y + 0.5} stroke={dash ? GRID : BORDER} strokeDasharray={dash} />
  );
  const v = (x: number, y1: number, y2: number) => <line x1={x + 0.5} x2={x + 0.5} y1={y1} y2={y2} stroke={BORDER} />;
  return (
    <svg width={1358} height={645} style={{ position: 'absolute', left: 0, top: 0, pointerEvents: 'none' }}>
      {h(368, 0, 1076)}
      {h(478, 0, 1076)}
      {h(628, 0, 1076)}
      {v(1026, 0, 645)}
      {v(1075, 0, 645)}
      {h(62, 1075, 1358)}
      {h(84, 1075, 1358)}
      {h(200, 1075, 1358)}
      {h(375, 1075, 1358)}
      {h(403, 1075, 1358)}
      {h(561, 1076, 1358, '1 3')}
      {h(597, 1076, 1358, '1 3')}
      {h(615, 1076, 1358, '1 3')}
      <polygon points="1005,3 1010.5,8.5 1005,14 999.5,8.5" fill="none" stroke={AXIS} />
      <rect x={1014.5} y={3.5} width={10} height={11} fill="none" stroke={AXIS} />
      <line x1={1018.5} x2={1018.5} y1={3.5} y2={14.5} stroke={AXIS} />
      <rect x={1027.5} y={458.5} width={40} height={17} fill="none" stroke={BORDER} />
    </svg>
  );
}

export default function App() {
  return (
    <div style={{ position: 'fixed', left: 0, top: 0, width: 1358, height: 645, background: '#000', overflow: 'hidden' }}>
      <div style={{ position: 'absolute', left: 0, top: 0 }}>
        <PriceChart />
      </div>
      <div style={{ position: 'absolute', left: 0, top: 368 }}>
        <VolumeChart />
      </div>
      <div style={{ position: 'absolute', left: 0, top: 478 }}>
        <KdjChart />
      </div>
      <Frame />
      <Titles />
      <SidePanel />
    </div>
  );
}
